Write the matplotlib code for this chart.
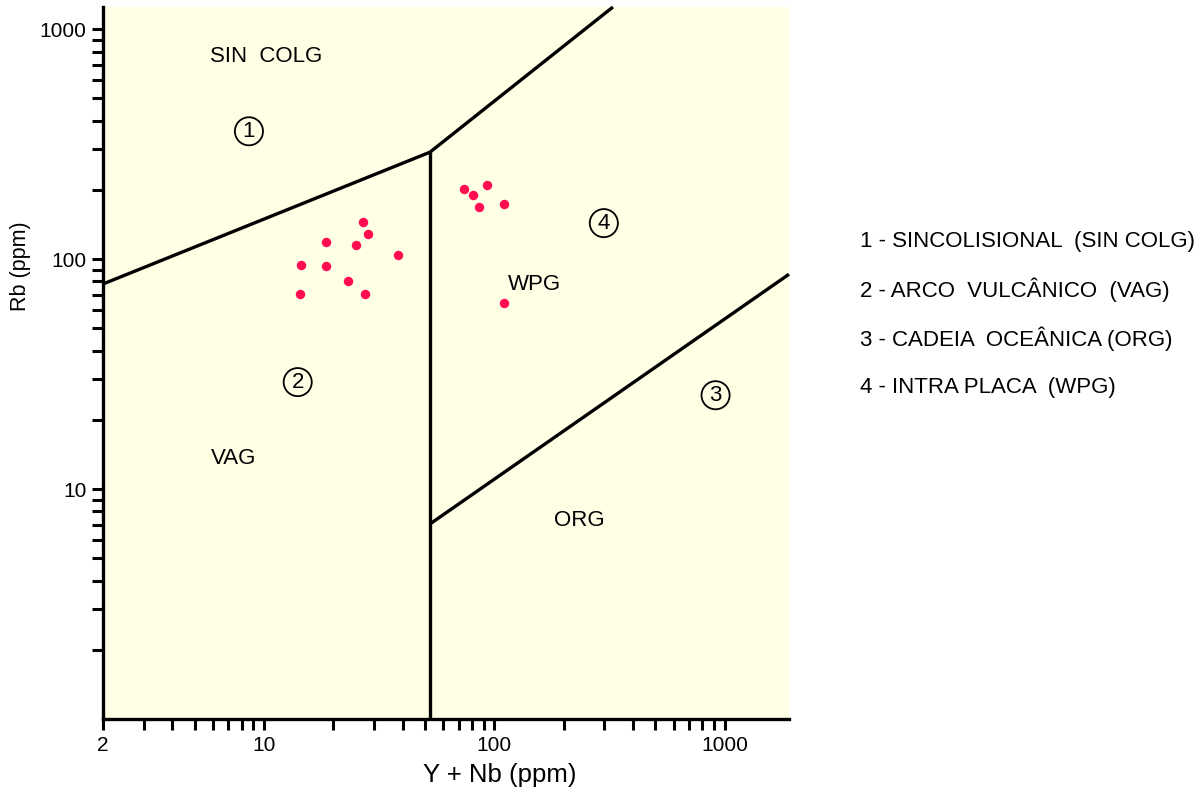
import matplotlib
matplotlib.use("Agg")
import matplotlib.pyplot as plt
from matplotlib.ticker import LogLocator, FixedLocator, NullFormatter, FixedFormatter

plt.rcParams['font.family'] = ['Liberation Sans', 'DejaVu Sans']

# Sample data (Y+Nb vs Rb, ppm)
ynb = [73.6, 80.8, 92.7, 86.1, 110.6, 26.9, 28.2, 18.6, 25.0, 38.1,
       14.4, 18.5, 23.2, 14.3, 27.3, 109.9]
rb = [202, 190, 211, 168, 174, 145, 128.8, 118.9, 115.4, 103.8,
      93.9, 93.2, 80.0, 70.7, 70.7, 64.6]

# Field boundaries
syn_vag_x = [2, 52.5]
syn_vag_y = [78, 292]
syn_wpg_x = [52.5, 327]
syn_wpg_y = [292, 1250]
vag_wpg_x = [52.5, 52.5]
vag_wpg_y = [1, 292]
org_wpg_x = [52.5, 1900]
org_wpg_y = [7.05, 86]

field_labels = ["SIN  COLG", "VAG", "WPG", "ORG"]
field_label_x = [10.2, 7.4, 149.6, 234]
field_label_y = [763, 13.6, 77.9, 7.3]
circ_labels = ["1", "2", "3", "4"]
circ_x = [8.6, 14.0, 912, 298.5]
circ_y = [360, 29.2, 25.6, 143.5]

legend_lines = ["1 - SINCOLISIONAL  (SIN COLG)",
                "2 - ARCO  VULCÂNICO  (VAG)",
                "3 - CADEIA  OCEÂNICA (ORG)",
                "4 - INTRA PLACA  (WPG)"]

fig = plt.figure(figsize=(12.04, 7.94), dpi=100)
ax = fig.add_axes([103/1204, 1-719/794, (789-103)/1204, (719-7)/794])
ax.set_facecolor('#FFFFE6')
ax.set_xscale('log')
ax.set_yscale('log')
ax.set_xlim(2, 1900)
ax.set_ylim(1, 1250)

lw = 2.4
for xs, ys in [(syn_vag_x, syn_vag_y), (syn_wpg_x, syn_wpg_y),
               (vag_wpg_x, vag_wpg_y), (org_wpg_x, org_wpg_y)]:
    ax.plot(xs, ys, color='black', lw=lw, solid_capstyle='butt', zorder=2, clip_on=False)

ax.plot(ynb, rb, 'o', color='#FF0D50', markersize=6.8, markeredgewidth=0, zorder=3)

for t, x, y in zip(field_labels, field_label_x, field_label_y):
    ax.text(x, y, t, ha='center', va='center', fontsize=16)
for t, x, y in zip(circ_labels, circ_x, circ_y):
    ax.text(x, y, t, ha='center', va='center', fontsize=16,
            bbox=dict(boxstyle='circle,pad=0.16', fc='none', ec='black', lw=1.3))

for s in ['top', 'right']:
    ax.spines[s].set_visible(False)
for s in ['left', 'bottom']:
    ax.spines[s].set_linewidth(2.4)

ax.xaxis.set_major_locator(FixedLocator([2, 10, 100, 1000]))
ax.xaxis.set_major_formatter(FixedFormatter(['2', '10', '100', '1000']))
ax.xaxis.set_minor_locator(LogLocator(base=10, subs=range(2, 10)))
ax.xaxis.set_minor_formatter(NullFormatter())
ax.yaxis.set_major_locator(FixedLocator([10, 100, 1000]))
ax.yaxis.set_major_formatter(FixedFormatter(['10', '100', '1000']))
ax.yaxis.set_minor_locator(LogLocator(base=10, subs=range(2, 10)))
ax.yaxis.set_minor_formatter(NullFormatter())
ax.tick_params(which='both', direction='out', length=8, width=2.2, labelsize=15, pad=4)

fig.text(500/1204, 1-775/794, 'Y + Nb (ppm)', ha='center', va='center', fontsize=18.5)
fig.text(21/1204, 1-266/794, 'Rb (ppm)', ha='center', va='center', fontsize=15.5, rotation=90)

for i, t in enumerate(legend_lines):
    fig.text(860/1204, 1-(241+49*i)/794, t, ha='left', va='center', fontsize=16)

fig.savefig('out.png', dpi=100)
